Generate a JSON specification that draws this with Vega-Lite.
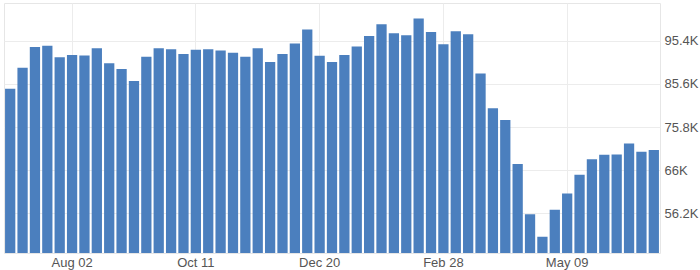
{
  "$schema": "https://vega.github.io/schema/vega-lite/v6.json",
  "autosize": "none",
  "width": 656,
  "height": 250,
  "padding": {"left": 4, "top": 3, "right": 40, "bottom": 17},
  "background": "white",
  "config": {
    "view": {"stroke": "#e6e6e6"},
    "font": "Liberation Sans"
  },
  "data": {
    "values": [
      {"week": "Jun 28", "value": 84.5}, {"week": "Jul 05", "value": 89.3}, {"week": "Jul 12", "value": 94.0},
      {"week": "Jul 19", "value": 94.3}, {"week": "Jul 26", "value": 91.7}, {"week": "Aug 02", "value": 92.2},
      {"week": "Aug 09", "value": 92.1}, {"week": "Aug 16", "value": 93.7}, {"week": "Aug 23", "value": 90.3},
      {"week": "Aug 30", "value": 89.0}, {"week": "Sep 06", "value": 86.3}, {"week": "Sep 13", "value": 91.8},
      {"week": "Sep 20", "value": 93.7}, {"week": "Sep 27", "value": 93.5}, {"week": "Oct 04", "value": 92.4},
      {"week": "Oct 11", "value": 93.4}, {"week": "Oct 18", "value": 93.5}, {"week": "Oct 25", "value": 93.2},
      {"week": "Nov 01", "value": 92.7}, {"week": "Nov 08", "value": 91.8}, {"week": "Nov 15", "value": 93.7},
      {"week": "Nov 22", "value": 90.6}, {"week": "Nov 29", "value": 92.4}, {"week": "Dec 06", "value": 94.8},
      {"week": "Dec 13", "value": 98.0}, {"week": "Dec 20", "value": 92.0}, {"week": "Dec 27", "value": 90.6},
      {"week": "Jan 03", "value": 92.2}, {"week": "Jan 10", "value": 94.1}, {"week": "Jan 17", "value": 96.5},
      {"week": "Jan 24", "value": 99.2}, {"week": "Jan 31", "value": 97.1}, {"week": "Feb 07", "value": 96.7},
      {"week": "Feb 14", "value": 100.5}, {"week": "Feb 21", "value": 97.4}, {"week": "Feb 28", "value": 94.6},
      {"week": "Mar 07", "value": 97.6}, {"week": "Mar 14", "value": 96.9}, {"week": "Mar 21", "value": 88.0},
      {"week": "Mar 28", "value": 80.1}, {"week": "Apr 04", "value": 77.4}, {"week": "Apr 11", "value": 67.4},
      {"week": "Apr 18", "value": 56.0}, {"week": "Apr 25", "value": 50.9}, {"week": "May 02", "value": 57.0},
      {"week": "May 09", "value": 60.7}, {"week": "May 16", "value": 65.0}, {"week": "May 23", "value": 68.5},
      {"week": "May 30", "value": 69.5}, {"week": "Jun 06", "value": 69.6}, {"week": "Jun 13", "value": 72.1},
      {"week": "Jun 20", "value": 70.2}, {"week": "Jun 27", "value": 70.6}
    ]
  },
  "mark": {"type": "bar", "color": "#4b7fbe", "clip": true},
  "encoding": {
    "x": {
      "field": "week",
      "type": "ordinal",
      "sort": null,
      "scale": {"paddingInner": 0.17, "paddingOuter": 0.085},
      "axis": {
        "title": null,
        "values": ["Aug 02", "Oct 11", "Dec 20", "Feb 28", "May 09"],
        "labelAngle": 0,
        "ticks": false,
        "domain": false,
        "grid": true,
        "gridColor": "#ececec",
        "bandPosition": 0.5,
        "labelFontSize": 13,
        "labelColor": "#555555",
        "labelPadding": 3,
        "labelFont": "Liberation Sans"
      }
    },
    "y": {
      "field": "value",
      "type": "quantitative",
      "scale": {"domain": [47.2, 104], "zero": false, "nice": false},
      "axis": {
        "title": null,
        "orient": "right",
        "values": [56.2, 66, 75.8, 85.6, 95.4],
        "labelExpr": "datum.value + 'K'",
        "ticks": false,
        "domain": false,
        "grid": true,
        "gridColor": "#ececec",
        "labelFontSize": 13,
        "labelColor": "#555555",
        "labelPadding": 4,
        "labelFont": "Liberation Sans"
      }
    }
  }
}
